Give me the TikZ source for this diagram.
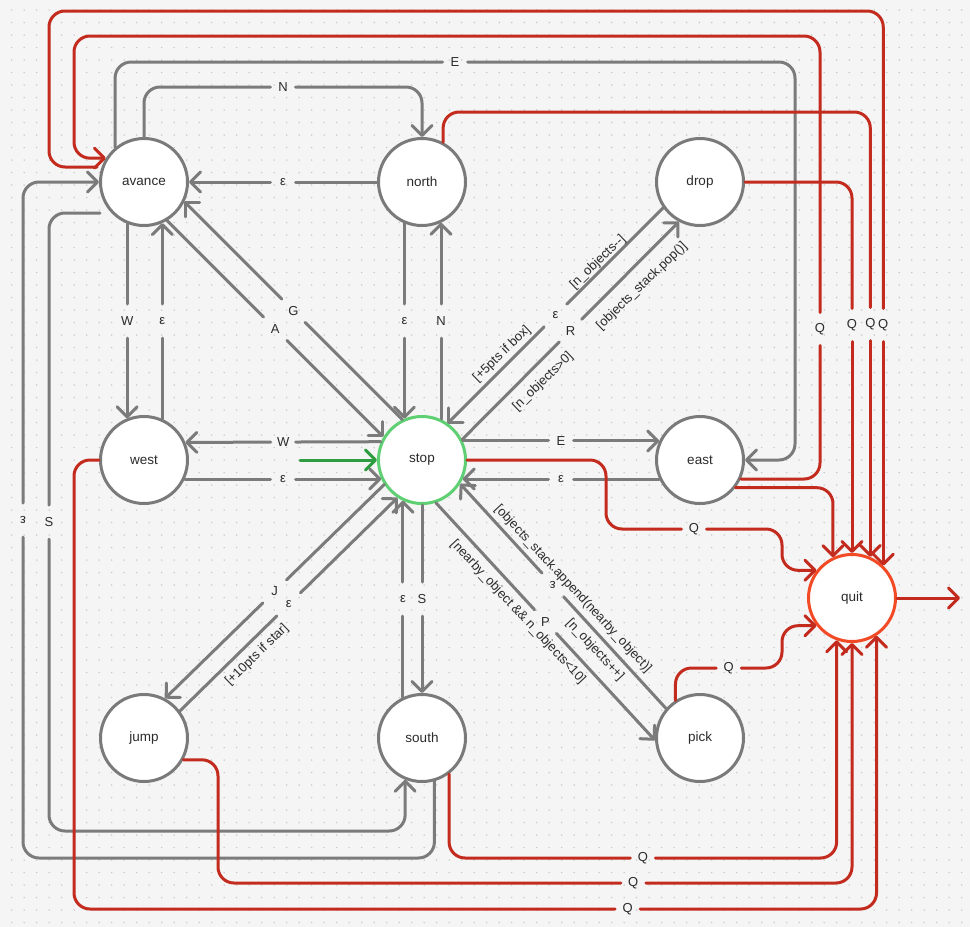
\documentclass[tikz,border=0pt]{standalone}
\usepackage{fontspec}
\setmainfont{Liberation Sans}
\usetikzlibrary{arrows.meta,calc}
\definecolor{bg}{HTML}{F5F5F5}
\definecolor{dotc}{HTML}{C8C8C8}
\definecolor{ngray}{HTML}{7A7A7A}
\definecolor{egray}{HTML}{7B7B7B}
\definecolor{ered}{HTML}{C22B1D}
\definecolor{qred}{HTML}{F24A25}
\definecolor{sgreen}{HTML}{5ED073}
\definecolor{igreen}{HTML}{2E9C40}
\definecolor{txt}{HTML}{2B2B2B}
% labelled straight transition: style, from, to, pos, half gap, name, label options, label
\newcommand\tedge[8]{%
  \path (#2) -- coordinate[pos=#4] (#6) (#3);
  \draw[#1] (#2) -- ($(#6)!#5!(#2)$);
  \draw[#1,arr] ($(#6)!#5!(#3)$) -- (#3);
  \node[lb,#7] (#6t) at (#6) {#8};}
\begin{document}
\begin{tikzpicture}[x=1pt,y=-1pt,
 st/.style={circle,draw=ngray,fill=white,line width=3pt,minimum size=87pt,inner sep=0pt,font=\fontsize{13.5}{16}\selectfont,text=txt},
 ge/.style={draw=egray,line width=3pt,line cap=round,line join=round,rounded corners=16pt},
 re/.style={ge,draw=ered},
 arr/.style={-{Straight Barb[length=10pt,width=20pt,round]}},
 lb/.style={text=txt,font=\fontsize{13}{15}\selectfont,inner sep=0pt},
 cmt/.style={text=txt,font=\fontsize{13}{15}\selectfont,inner sep=0pt},
]
\useasboundingbox (0,0) rectangle (970,927);
\fill[bg] (0,0) rectangle (970,927);
\foreach \j in {0,...,73}
  \draw[dotc,line width=1.6pt,line cap=round,dash pattern=on 0pt off 12.5pt] (11.7,{10+12.5*\j}) -- (970,{10+12.5*\j});

% lanes
\coordinate (yA) at (0,11);
\coordinate (yEA) at (0,36);
\coordinate (yE) at (0,62);
\coordinate (yN) at (0,87);
\coordinate (yNQ) at (0,112);
\coordinate (yQ) at (0,325);
\coordinate (ySt) at (0,529);
\coordinate (yPk) at (0,668);
\coordinate (yS) at (0,831);
\coordinate (yEp) at (0,858);
\coordinate (ySQ) at (0,858);
\coordinate (yJQ) at (0,883);
\coordinate (yWQ) at (0,909);
\coordinate (xEp) at (23,0);
\coordinate (xS) at (49,0);
\coordinate (xIn) at (74,0);
\coordinate (xJ) at (218,0);
\coordinate (xSt) at (606,0);
\coordinate (xStep) at (782,0);
\coordinate (xE) at (795,0);
\coordinate (xQE) at (820,0);
\coordinate (init) at (300,460);
\coordinate (exitpt) at (960,598);

% states
\node[st] (avance) at (144,182) {avance};
\node[st] (north) at (422,182) {north};
\node[st] (drop) at (700,182) {drop};
\node[st] (west) at (144,460) {west};
\node[st,draw=sgreen] (stop) at (422,460) {stop};
\node[st] (east) at (700,460) {east};
\node[st] (jump) at (144,738) {jump};
\node[st] (south) at (422,738) {south};
\node[st] (pick) at (700,738) {pick};
\node[st,draw=qred] (quit) at (852,598) {quit};

\coordinate (sS) at ($(avance)+(-44,31)$);
\coordinate (sA) at ($(avance)+(-47,-15)$);

% ---- grey transitions
% avance -N-> north (over the top)
\coordinate (lN) at ($(avance.north |- yN)!0.5!(north.north |- yN)$);
\draw[ge] (avance.north) -- (avance.north |- yN) -- ($(lN)+(-12.5,0)$);
\draw[ge,arr] ($(lN)+(12.5,0)$) -- (north.north |- yN) -- (north.north);
\node[lb] (lNt) at (lN) {N};
% avance -E-> east (over the top)
\coordinate (lE) at ($(avance.130 |- yE)!0.5!(xE |- yE)$);
\draw[ge] (avance.130) -- (avance.130 |- yE) -- ($(lE)+(-12.5,0)$);
\draw[ge,arr] ($(lE)+(12.5,0)$) -- (xE |- yE) -- (xE |- east.east) -- (east.east);
\node[lb] (lEt) at (lE) {E};

\tedge{ge}{north.west}{avance.east}{0.5}{12.5pt}{l3}{}{ε}
\tedge{ge}{avance.-112.2}{west.112.2}{0.5}{17pt}{l4}{}{W}
\tedge{ge}{west.66.4}{avance.-66.4}{0.5}{17pt}{l5}{}{ε}
\tedge{ge}{avance.-59.1}{stop.149.1}{0.5}{16.5pt}{l6}{}{A}
\tedge{ge}{stop.116.9}{avance.-26.9}{0.5}{16.5pt}{l7}{}{G}
\tedge{ge}{north.-113.6}{stop.113.6}{0.5}{17pt}{l8}{}{ε}
\tedge{ge}{stop.65}{north.-65}{0.5}{17pt}{l9}{}{N}
\tedge{ge}{stop.156.4}{west.23.6}{0.5}{12.5pt}{l10}{}{W}
\tedge{ge}{west.-25}{stop.205}{0.5}{12.5pt}{l11}{}{ε}
\tedge{ge}{stop.25}{east.155}{0.5}{12.5pt}{l12}{}{E}
\tedge{ge}{east.205}{stop.-25}{0.5}{12.5pt}{l13}{}{ε}
\draw[ge,arr,draw=igreen] (init) -- (stop.west);

% stop <-> drop
\tedge{ge}{drop.215}{stop.55}{0.5}{16pt}{l14}{}{ε}
\tedge{ge}{stop.27.7}{drop.242.7}{0.5}{16pt}{l15}{}{R}
\node[cmt,rotate=44] (t1) at (598,262) {[n\_objects-{}-]};
\node[cmt,rotate=44] (t2) at (502,354) {[+5pts if box]};
\node[cmt,rotate=44] (t3) at (543,382) {[n\_objects>0]};
\node[cmt,rotate=44] (t4) at (642,286) {[objects\_stack.pop()]};

% stop <-> pick
\tedge{ge}{stop.-72.5}{pick.183.6}{0.5}{16pt}{l16}{}{P}
\tedge{ge}{pick.139.6}{stop.-32}{0.55}{16pt}{l17}{rotate=180}{ε}
\node[cmt,rotate=-47] (t5) at (573,589) {[objects\_stack.append(nearby\_object)]};
\node[cmt,rotate=-47] (t6) at (595,650) {[n\_objects++]};
\node[cmt,rotate=-47] (t7) at (518,612) {[nearby\_object \&\& n\_objects<10]};

% stop <-> jump
\tedge{ge}{stop.213.7}{jump.62}{0.5}{16.5pt}{l18}{}{J}
\tedge{ge}{jump.37.6}{stop.237}{0.5}{16.5pt}{l19}{}{ε}
\node[cmt,rotate=44] (t8) at (257,655) {[+10pts if star]};

% stop <-> south
\tedge{ge}{south.115}{stop.245}{0.5}{17pt}{l20}{}{ε}
\tedge{ge}{stop.south}{south.north}{0.5}{17pt}{l21}{}{S}

% avance -S-> south (left loop)
\coordinate (lS) at ($(xS |- sS)!0.5!(xS |- yS)$);
\draw[ge] (sS) -- (xS |- sS) -- ($(lS)+(0,-17)$);
\draw[ge,arr] ($(lS)+(0,17)$) -- (xS |- yS) -- (south.-112 |- yS) -- (south.-112);
\node[lb] (lSt) at (lS) {S};
% south -e-> avance (outer left loop)
\coordinate (lEp) at ($(xEp |- yEp)!0.5!(xEp |- avance.west)$);
\draw[ge] (south.-74.5) -- (south.-74.5 |- yEp) -- (xEp |- yEp) -- ($(lEp)+(0,17)$);
\draw[ge,arr] ($(lEp)+(0,-17)$) -- (xEp |- avance.west) -- (avance.west);
\node[lb,rotate=180] (lEpt) at (lEp) {ε};

% ---- red transitions
% avance -> quit (outermost)
\coordinate (lQ1) at (quit.46.5 |- yQ);
\draw[re] (sA) -- (xS |- sA) -- (xS |- yA) -- (quit.46.5 |- yA) -- ($(lQ1)+(0,-16.5)$);
\draw[re,arr] ($(lQ1)+(0,16.5)$) -- (quit.46.5);
\node[lb] (lQ1t) at (lQ1) {Q};
% east -> avance
\coordinate (lQ2) at ($(xQE |- yQ)+(0,4)$);
\draw[re] (east.-25) -- (xQE |- east.-25) -- ($(lQ2)+(0,16.5)$);
\draw[re,arr] ($(lQ2)+(0,-16.5)$) -- (xQE |- yEA) -- (xIn |- yEA) -- (xIn |- avance.148) -- (avance.148);
\node[lb] (lQ2t) at (lQ2) {Q};
% east -> quit
\draw[re,arr] (east.-38) -| (quit.115);
% drop -> quit
\coordinate (lQ3) at (quit.north |- yQ);
\draw[re] (drop.east) -- (quit.north |- drop.east) -- ($(lQ3)+(0,-16.5)$);
\draw[re,arr] ($(lQ3)+(0,16.5)$) -- (quit.north);
\node[lb] (lQ3t) at (lQ3) {Q};
% north -> quit
\coordinate (lQ4) at ($(quit.66.4 |- yQ)+(0,-1)$);
\draw[re] (north.62) -- (north.62 |- yNQ) -- (quit.66.4 |- yNQ) -- ($(lQ4)+(0,-16.5)$);
\draw[re,arr] ($(lQ4)+(0,16.5)$) -- (quit.66.4);
\node[lb] (lQ4t) at (lQ4) {Q};
% stop -> quit
\coordinate (lQ5) at ($(xSt |- ySt)!0.5!(xStep |- ySt)$);
\draw[re] (stop.east) -- (xSt |- stop.east) -- (xSt |- ySt) -- ($(lQ5)+(-12.5,0)$);
\draw[re,arr] ($(lQ5)+(12.5,0)$) -- (xStep |- ySt) -- (xStep |- quit.142) -- (quit.142);
\node[lb] (lQ5t) at (lQ5) {Q};
% pick -> quit
\coordinate (lQ6) at ($(pick.123.4 |- yPk)!0.5!(xStep |- yPk)$);
\draw[re] (pick.123.4) -- (pick.123.4 |- yPk) -- ($(lQ6)+(-12.5,0)$);
\draw[re,arr] ($(lQ6)+(12.5,0)$) -- (xStep |- yPk) -- (xStep |- quit.218) -- (quit.218);
\node[lb] (lQ6t) at (lQ6) {Q};
% south -> quit
\coordinate (lQ7) at ($(south.-53.4 |- ySQ)!0.5!(quit.250.5 |- ySQ)$);
\draw[re] (south.-53.4) -- (south.-53.4 |- ySQ) -- ($(lQ7)+(-12.5,0)$);
\draw[re,arr] ($(lQ7)+(12.5,0)$) -- (quit.250.5 |- ySQ) -- (quit.250.5);
\node[lb] (lQ7t) at (lQ7) {Q};
% jump -> quit
\coordinate (lQ8) at ($(xJ |- yJQ)!0.655!(quit.south |- yJQ)$);
\draw[re] (jump.-29.2) -- (xJ |- jump.-29.2) -- (xJ |- yJQ) -- ($(lQ8)+(-12.5,0)$);
\draw[re,arr] ($(lQ8)+(12.5,0)$) -- (quit.south |- yJQ) -- (quit.south);
\node[lb] (lQ8t) at (lQ8) {Q};
% west -> quit
\coordinate (lQ9) at ($(xIn |- yWQ)!0.69!(quit.-57.8 |- yWQ)$);
\draw[re] (west.west) -- (xIn |- west.west) -- (xIn |- yWQ) -- ($(lQ9)+(-12.5,0)$);
\draw[re,arr] ($(lQ9)+(12.5,0)$) -- (quit.-57.8 |- yWQ) -- (quit.-57.8);
\node[lb] (lQ9t) at (lQ9) {Q};
% exit of quit
\draw[re,arr] (quit.east) -- (exitpt);
\end{tikzpicture}
\end{document}
